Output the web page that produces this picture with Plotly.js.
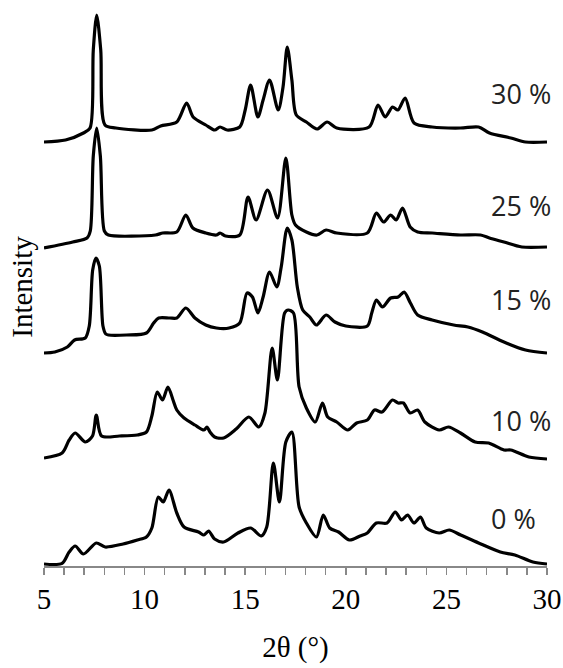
<!DOCTYPE html>
<html>
<head>
<meta charset="utf-8">
<script src="https://cdn.plot.ly/plotly-3.0.1.min.js"></script>
<style>
html,body{margin:0;padding:0;background:#fff;}
#chart{width:563px;height:668px;}
</style>
</head>
<body>
<div id="chart"></div>
<script>
// 2θ angles and stacked intensities (arbitrary units) for each sample
var angles0 = [5.0,5.9,6.25,6.55,6.96,7.6,8.04,8.93,9.64,10.09,10.36,10.68,10.93,11.21,11.6,11.96,12.68,12.95,13.18,13.48,13.93,14.64,15.27,15.8,16.07,16.4,16.7,17.02,17.32,17.68,18.04,18.54,18.88,19.2,19.64,20.18,20.71,21.07,21.52,22.05,22.46,22.77,23.07,23.39,23.71,24.0,24.64,25.14,25.71,26.6,27.68,28.4,29.3,30];
var intensity0 = [2,2.7,14,20,12,23,19,22,26,29,38,69,64,76,53,39,34,31,35,27,24,33,38,30,39,103,64,124,134,59,43,29,51,38,34,26,30,33,43,43,54,46,51,43,49,38,33,36,31,23,14,11,4,2];

var angles10 = [5,5.9,6.25,6.55,7.05,7.41,7.6,7.86,8.75,9.64,10.09,10.36,10.63,10.89,11.16,11.43,11.6,11.96,12.5,12.95,13.1,13.25,13.48,13.93,14.55,15.18,15.68,15.98,16.34,16.6,16.96,17.14,17.4,17.68,18.04,18.48,18.84,19.1,19.55,20.1,20.54,21.07,21.43,21.8,22.32,22.6,22.86,23.2,23.57,23.93,24.64,25.1,25.7,26.43,27.1,27.86,28.2,29.1,30];
var intensity10 = [108,113,126,133,124,130,151,130,130,131,134,150,174,166,179,165,156,148,141,136,139,134,129,128,137,149,139,153,218,186,253,256,253,179,158,144,163,149,144,136,143,146,156,154,166,163,163,153,156,144,136,139,133,124,123,116,116,109,107];

var angles15 = [5,5.54,6.16,6.52,7.05,7.25,7.42,7.58,7.75,7.93,8.07,8.2,9.1,10.09,10.45,10.7,11.25,11.6,12.05,12.5,13.04,13.57,14.2,14.73,15.09,15.36,15.63,15.89,16.21,16.57,16.79,17.09,17.32,17.59,17.86,18.21,18.54,19.02,19.46,20.0,21.07,21.29,21.52,21.82,22.23,22.6,22.9,23.21,23.57,24.29,25.36,26.07,26.79,27.86,28.93,30];
var intensity15 = [213,214,219,226,228,240,296,308,300,240,232,231,231,233,243,248,248,248,258,248,241,238,238,243,273,269,253,269,294,279,299,338,326,279,256,249,241,251,244,240,240,253,266,259,268,269,274,263,251,246,241,239,234,224,216,213];

var angles25 = [5,6.43,7.14,7.3,7.45,7.62,7.8,8.0,8.2,10.54,10.9,11.6,12.05,12.4,13.04,13.57,13.75,14.02,14.73,15.14,15.54,16.11,16.61,17.02,17.32,17.5,18.04,18.57,19.02,19.55,21.07,21.52,21.88,22.23,22.5,22.82,23.2,23.57,24.29,25.7,26.7,27.14,27.86,28.75,30];
var intensity25 = [318,324,328,335,410,438,410,335,331,331,333,334,351,338,333,331,333,330,331,369,346,376,348,408,351,341,334,331,336,333,333,353,344,351,346,358,339,334,333,331,331,328,324,319,319];

var angles30 = [5,6.07,6.96,7.29,7.45,7.62,7.82,8.03,8.57,10.36,10.8,11.6,12.09,12.41,13.04,13.48,13.75,14.1,14.73,15.0,15.27,15.63,15.89,16.21,16.64,16.88,17.09,17.32,17.54,18.04,18.57,19.07,19.55,21.16,21.6,21.96,22.32,22.59,22.95,23.39,24.29,25.7,26.6,27.14,28.2,28.93,30];
var intensity30 = [424,426,433,438,516,551,516,441,438,436,440,444,463,449,441,436,439,436,439,456,481,449,466,486,456,479,519,486,451,444,437,444,438,439,461,449,459,456,468,443,439,438,439,433,428,424,424];

var sampleLabels = ['0 %','10 %','15 %','25 %','30 %'];
var labelLevels = [48,146,267,361,473];

var serif = 'Liberation Serif';

var series = [[angles0,intensity0],[angles10,intensity10],[angles15,intensity15],[angles25,intensity25],[angles30,intensity30]];
var traces = series.map(function(s,i){
  return {x:s[0], y:s[1], type:'scatter', mode:'lines', name:sampleLabels[i],
    line:{color:'#000', width:3.2, shape:'spline', smoothing:0.8}, hoverinfo:'skip'};
});

var annotations = sampleLabels.map(function(t,i){
  return {x:27.12, y:labelLevels[i], xref:'x', yref:'y', text:t, showarrow:false,
    xanchor:'left', yanchor:'middle', font:{family:'Open Sans', size:27, color:'#222'}};
});
annotations.push({x:-0.044, y:0.502, xref:'paper', yref:'paper', text:'Intensity', textangle:-90,
  showarrow:false, xanchor:'center', yanchor:'middle', font:{family:serif, size:29, color:'#000'}});

var layout = {
  width:563, height:668,
  margin:{l:44, r:16, t:10, b:102},
  paper_bgcolor:'#fff', plot_bgcolor:'#fff',
  showlegend:false,
  font:{family:serif, color:'#000'},
  xaxis:{range:[5,30], dtick:5, tick0:5, showgrid:false, zeroline:false,
    showline:true, linecolor:'#888', linewidth:1.5,
    ticks:'outside', ticklen:7, tickwidth:1.5, tickcolor:'#888',
    minor:{dtick:1, ticks:'outside', ticklen:7, tickwidth:1.5, tickcolor:'#888', showgrid:false},
    tickfont:{family:serif, size:29, color:'#000'},
    title:{text:'2θ (°)', font:{family:serif, size:29, color:'#000'}, standoff:22}},
  yaxis:{range:[0,556], visible:false, fixedrange:true},
  annotations:annotations
};

Plotly.newPlot('chart', traces, layout, {staticPlot:true, displayModeBar:false});
</script>
</body>
</html>
